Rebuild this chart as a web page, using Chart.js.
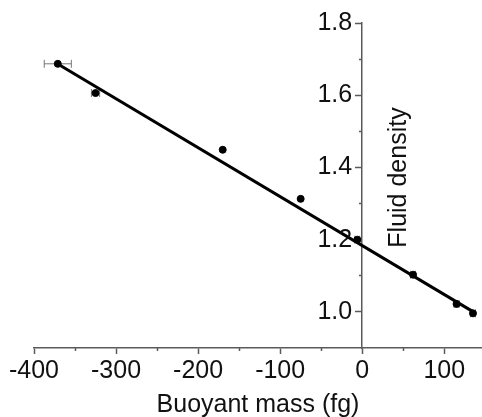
<!DOCTYPE html>
<html>
<head>
<meta charset="utf-8">
<script src="https://cdn.jsdelivr.net/npm/chart.js@4/dist/chart.umd.min.js"></script>
<style>
  html, body { margin: 0; padding: 0; background: #fff; }
  #wrap { width: 482px; height: 417px; }
</style>
</head>
<body>
<div id="wrap"><canvas id="grafico" width="482" height="417"></canvas></div>
<script>
// datos
const masaBoyante = [-371, -325, -170, -75, -6, 62, 115, 135];
const densidad = [1.687, 1.606, 1.449, 1.313, 1.200, 1.103, 1.022, 0.996];
const errorMasa = [16.5, 5, 0, 0, 3, 3, 3, 3];
const ajusteX = [-372, 137];
const ajusteY = [1.688, 0.998];
const ticksX = [-400, -300, -200, -100, 0, 100];
const ticksXMenor = [-350, -250, -150, -50, 50];
const ticksY = [1.0, 1.2, 1.4, 1.6, 1.8];
const ticksYMenor = [1.1, 1.3, 1.5, 1.7];

const fuente = { family: "'Liberation Sans', Arial, sans-serif", size: 25 };
const fuenteCss = "25px 'Liberation Sans', Arial, sans-serif";
const gris = '#5a5a5a';

const puntos = masaBoyante.map((x, i) => ({ x: x, y: densidad[i] }));
const linea = ajusteX.map((x, i) => ({ x: x, y: ajusteY[i] }));

// barras de error horizontales
const barrasError = {
    id: 'barrasError',
    beforeDatasetsDraw(chart) {
        const { ctx, scales: { x, y } } = chart;
        ctx.save();
        ctx.strokeStyle = '#777';
        ctx.lineWidth = 1;
        masaBoyante.forEach((m, i) => {
            if (!errorMasa[i]) return;
            const py = y.getPixelForValue(densidad[i]);
            const x1 = x.getPixelForValue(m - errorMasa[i]);
            const x2 = x.getPixelForValue(m + errorMasa[i]);
            ctx.beginPath();
            ctx.moveTo(x1, py); ctx.lineTo(x2, py);
            ctx.moveTo(x1, py - 4); ctx.lineTo(x1, py + 4);
            ctx.moveTo(x2, py - 4); ctx.lineTo(x2, py + 4);
            ctx.stroke();
        });
        ctx.restore();
    }
};

// etiquetas del eje Y (a la izquierda del eje en x=0) y título a la derecha
const textosY = {
    id: 'textosY',
    afterDraw(chart) {
        const { ctx, scales: { x, y } } = chart;
        const x0 = x.getPixelForValue(0);
        ctx.save();
        ctx.font = fuenteCss;
        ctx.fillStyle = '#111';
        ctx.textAlign = 'right';
        ctx.textBaseline = 'middle';
        ticksY.forEach(v => ctx.fillText(v.toFixed(1), x0 - 10, y.getPixelForValue(v)));
        ctx.translate(x0 + 37, (y.getPixelForValue(1.8) + y.getPixelForValue(0.9)) / 2 - 8);
        ctx.rotate(-Math.PI / 2);
        ctx.textAlign = 'center';
        ctx.fillText('Fluid density', 0, 0);
        ctx.restore();
    }
};

const fijarTicks = valores => scale => { scale.ticks = valores.map(v => ({ value: v })); };

new Chart(document.getElementById('grafico'), {
    type: 'scatter',
    data: {
        datasets: [
            { type: 'line', data: linea, borderColor: '#000', borderWidth: 3, pointRadius: 0, fill: false },
            { data: puntos, backgroundColor: '#000', borderColor: '#000', pointRadius: 3.5, pointHoverRadius: 3.5 }
        ]
    },
    options: {
        responsive: false,
        animation: false,
        events: [],
        layout: { autoPadding: false, padding: { left: 34, right: 0, top: 23, bottom: -3 } },
        plugins: { legend: { display: false }, tooltip: { enabled: false } },
        scales: {
            x: {
                type: 'linear', position: 'bottom', min: -400, max: 146,
                afterBuildTicks: fijarTicks(ticksX),
                border: { color: gris, width: 1.5 },
                grid: { drawOnChartArea: false, tickLength: 6, tickColor: gris, tickWidth: 1.5 },
                ticks: { font: fuente, color: '#111', padding: 2, autoSkip: false, maxRotation: 0 },
                title: { display: true, text: 'Buoyant mass (fg)', font: fuente, color: '#111', padding: { top: 2, bottom: 0 } }
            },
            xm: {
                type: 'linear', axis: 'x', position: { y: 0.9 }, min: -400, max: 146,
                afterBuildTicks: fijarTicks(ticksXMenor),
                border: { display: false },
                grid: { drawOnChartArea: false, tickLength: 3, tickColor: gris, tickWidth: 1.5 },
                ticks: { display: false, autoSkip: false }
            },
            y: {
                type: 'linear', position: { x: 0 }, min: 0.9, max: 1.8,
                afterBuildTicks: fijarTicks(ticksY),
                border: { color: gris, width: 1.5 },
                grid: { drawOnChartArea: false, tickLength: 6, tickColor: gris, tickWidth: 1.5 },
                ticks: { display: false, autoSkip: false }
            },
            ym: {
                type: 'linear', axis: 'y', position: { x: 0 }, min: 0.9, max: 1.8,
                afterBuildTicks: fijarTicks(ticksYMenor),
                border: { display: false },
                grid: { drawOnChartArea: false, tickLength: 3, tickColor: gris, tickWidth: 1.5 },
                ticks: { display: false, autoSkip: false }
            }
        }
    },
    plugins: [barrasError, textosY]
});
</script>
</body>
</html>
